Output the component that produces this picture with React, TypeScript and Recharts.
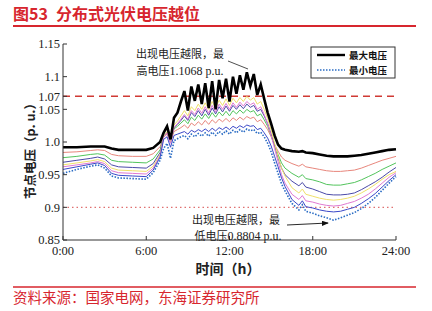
import React from 'react'
import { LineChart, Line, XAxis, YAxis, ReferenceLine } from 'recharts'

// hours of day
const TIME = [
  0, 1, 2, 2.5, 3, 3.5, 4, 5, 6, 6.5, 7,
  7.25, 7.5, 7.75, 8, 8.25, 8.5, 8.75, 9, 9.25, 9.5, 9.75, 10, 10.25, 10.5, 10.75, 11,
  11.25, 11.5, 11.75, 12, 12.25, 12.5, 12.75, 13, 13.25, 13.5, 13.75, 14, 14.25, 14.5,
  14.75, 15, 15.25, 15.5, 15.75, 16,
  16.5, 17, 17.25, 17.5, 18, 18.5, 19, 19.5, 20, 20.5, 21, 21.5, 22, 22.5, 23, 23.5, 24,
]

const MAX_V = [
  0.992, 0.992, 0.993, 0.993, 0.993, 0.99, 0.988, 0.988, 0.988, 0.991, 1.0,
  1.014, 1.024, 1.004, 1.037, 1.045, 1.062, 1.078, 1.048, 1.085, 1.063, 1.088, 1.058, 1.09, 1.052, 1.093, 1.05,
  1.095, 1.067, 1.097, 1.062, 1.1, 1.074, 1.102, 1.08, 1.1068, 1.086, 1.104, 1.072, 1.088, 1.066,
  1.045, 1.028, 1.01, 0.996, 0.99, 0.988,
  0.986, 0.985, 0.986, 0.984, 0.983, 0.981, 0.979, 0.978, 0.978, 0.978, 0.979, 0.98, 0.982, 0.984, 0.986, 0.988, 0.989,
]

const NODE_1 = [
  0.984, 0.985, 0.987, 0.988, 0.987, 0.981, 0.979, 0.978, 0.978, 0.982, 0.993,
  1.008, 1.012, 1.0, 1.016, 1.019, 1.022, 1.026, 1.021, 1.029, 1.025, 1.031, 1.026, 1.033, 1.027, 1.034, 1.029,
  1.035, 1.031, 1.036, 1.031, 1.037, 1.033, 1.038, 1.034, 1.039, 1.036, 1.038, 1.031, 1.034, 1.027,
  1.019, 1.008, 0.996, 0.986, 0.977, 0.972,
  0.967, 0.963, 0.966, 0.962, 0.96, 0.958, 0.956, 0.955, 0.955, 0.956, 0.957, 0.96, 0.964, 0.968, 0.972, 0.975, 0.978,
]

const NODE_2 = [
  0.976, 0.978, 0.981, 0.982, 0.98, 0.972, 0.97, 0.969, 0.968, 0.974, 0.988,
  1.009, 1.014, 1.0, 1.02, 1.024, 1.029, 1.034, 1.028, 1.038, 1.033, 1.041, 1.035, 1.043, 1.036, 1.045, 1.038,
  1.046, 1.04, 1.047, 1.04, 1.048, 1.043, 1.049, 1.044, 1.05, 1.046, 1.048, 1.04, 1.043, 1.034,
  1.024, 1.01, 0.995, 0.981, 0.968, 0.96,
  0.952, 0.946, 0.95, 0.944, 0.942, 0.939, 0.935, 0.934, 0.934, 0.936, 0.938, 0.942, 0.947, 0.952, 0.958, 0.963, 0.968,
]

const NODE_3 = [
  0.969, 0.972, 0.975, 0.977, 0.974, 0.965, 0.962, 0.961, 0.96, 0.967, 0.984,
  1.008, 1.015, 1.0, 1.022, 1.027, 1.033, 1.04, 1.033, 1.045, 1.039, 1.048, 1.04, 1.05, 1.041, 1.052, 1.043,
  1.054, 1.046, 1.055, 1.047, 1.056, 1.05, 1.057, 1.051, 1.058, 1.053, 1.056, 1.047, 1.05, 1.04,
  1.028, 1.012, 0.994, 0.976, 0.96, 0.95,
  0.94, 0.933, 0.938, 0.931, 0.928, 0.924, 0.92, 0.919, 0.919, 0.92, 0.922, 0.927, 0.933, 0.939, 0.946, 0.954, 0.961,
]

const NODE_4 = [
  0.965, 0.968, 0.971, 0.973, 0.97, 0.96, 0.957, 0.956, 0.955, 0.963, 0.981,
  1.008, 1.016, 1.0, 1.026, 1.032, 1.04, 1.048, 1.04, 1.054, 1.048, 1.058, 1.05, 1.06, 1.05, 1.062, 1.052,
  1.064, 1.056, 1.066, 1.056, 1.067, 1.06, 1.068, 1.062, 1.07, 1.064, 1.068, 1.058, 1.062, 1.05,
  1.036, 1.018, 0.998, 0.978, 0.96, 0.948,
  0.93, 0.922, 0.928, 0.92, 0.917, 0.914, 0.912, 0.911, 0.912, 0.914, 0.917, 0.922, 0.928, 0.935, 0.943, 0.95, 0.955,
]

const NODE_5 = [
  0.962, 0.965, 0.968, 0.97, 0.967, 0.956, 0.953, 0.952, 0.951, 0.96, 0.979,
  1.007, 1.014, 0.998, 1.022, 1.028, 1.035, 1.042, 1.035, 1.048, 1.042, 1.052, 1.044, 1.054, 1.044, 1.056, 1.046,
  1.058, 1.05, 1.059, 1.05, 1.06, 1.053, 1.061, 1.055, 1.062, 1.057, 1.06, 1.05, 1.054, 1.042,
  1.028, 1.01, 0.99, 0.97, 0.95, 0.937,
  0.92, 0.912, 0.918, 0.91, 0.908, 0.905, 0.903, 0.902, 0.903, 0.906, 0.909, 0.914, 0.92, 0.928, 0.937, 0.946, 0.953,
]

const NODE_6 = [
  0.958, 0.962, 0.966, 0.968, 0.964, 0.952, 0.949, 0.948, 0.947, 0.957, 0.977,
  1.004, 1.008, 0.992, 1.01, 1.012, 1.014, 1.016, 1.012, 1.018, 1.015, 1.019, 1.016, 1.02, 1.016, 1.021, 1.017,
  1.022, 1.019, 1.023, 1.019, 1.024, 1.021, 1.025, 1.022, 1.026, 1.024, 1.025, 1.019, 1.021, 1.014,
  1.006, 0.994, 0.978, 0.962, 0.945, 0.932,
  0.912, 0.903, 0.91, 0.901, 0.899, 0.896, 0.894, 0.893, 0.894, 0.897, 0.9, 0.906, 0.913, 0.921, 0.931, 0.941, 0.95,
]

const MIN_V = [
  0.952, 0.958, 0.963, 0.965, 0.96, 0.948, 0.945, 0.944, 0.943, 0.953, 0.972,
  0.99, 0.998, 0.975, 1.002, 1.005, 1.008, 1.01, 1.005, 1.012, 1.008, 1.013, 1.009, 1.014, 1.009, 1.015, 1.01,
  1.016, 1.012, 1.017, 1.012, 1.018, 1.014, 1.019, 1.015, 1.02, 1.017, 1.019, 1.013, 1.015, 1.008,
  0.998, 0.985, 0.968, 0.952, 0.936, 0.925,
  0.906, 0.896, 0.904, 0.894, 0.891, 0.887, 0.884, 0.8804, 0.884, 0.888, 0.892, 0.898, 0.906, 0.915, 0.926, 0.937, 0.947,
]

const X_TICKS = [0, 6, 12, 18, 24]
const X_LABELS = ['0:00', '6:00', '12:00', '18:00', '24:00']
const Y_TICKS = [0.85, 0.9, 0.95, 1.0, 1.05, 1.07, 1.1, 1.15]
const Y_LABELS = ['0.85', '0.9', '0.95', '1.0', '1.05', '1.07', '1.1', '1.15']
const UPPER_LIMIT = 1.07
const LOWER_LIMIT = 0.9

const data = TIME.map((t, i) => ({
  t,
  max: MAX_V[i],
  n1: NODE_1[i],
  n2: NODE_2[i],
  n3: NODE_3[i],
  n4: NODE_4[i],
  n5: NODE_5[i],
  n6: NODE_6[i],
  min: MIN_V[i],
}))

const nodeLines = [
  { key: 'n1', color: '#e8867c' },
  { key: 'n2', color: '#52c45c' },
  { key: 'n3', color: '#4b4aa8' },
  { key: 'n4', color: '#f0e06a' },
  { key: 'n5', color: '#e07ad2' },
  { key: 'n6', color: '#3a48c8' },
]

const serif = '"Liberation Serif", "DejaVu Serif", serif'
const cjk = '"Noto Sans CJK SC", sans-serif'
const red = '#d7262e'

export default function App() {
  const tickStyle = { fontSize: 12.5, fill: '#222', fontFamily: serif }
  return (
    <div style={{ position: 'absolute', left: 0, top: 0, width: 432, height: 311, background: '#fff' }}>
      <LineChart width={432} height={311} data={data} margin={{ top: 44, right: 36, bottom: 0, left: 23 }}>
        <XAxis
          dataKey="t"
          type="number"
          domain={[0, 24]}
          ticks={X_TICKS}
          tickFormatter={(v) => X_LABELS[X_TICKS.indexOf(v)]}
          height={71}
          stroke="#333"
          tickSize={-4}
          tickMargin={10}
          tick={tickStyle}
          interval={0}
        />
        <XAxis
          xAxisId="top"
          dataKey="t"
          type="number"
          orientation="top"
          domain={[0, 24]}
          ticks={X_TICKS}
          tickFormatter={() => ''}
          height={0}
          stroke="#333"
          tickSize={-4}
        />
        <YAxis
          type="number"
          domain={[0.85, 1.15]}
          ticks={Y_TICKS}
          tickFormatter={(v) => Y_LABELS[Y_TICKS.indexOf(v)]}
          width={40}
          stroke="#333"
          tickSize={-4}
          tickMargin={7}
          tick={tickStyle}
          interval={0}
          allowDataOverflow
        />
        <YAxis
          yAxisId="right"
          orientation="right"
          type="number"
          domain={[0.85, 1.15]}
          ticks={[0.9, 1.0, 1.05, 1.1]}
          tickFormatter={() => ''}
          width={0}
          stroke="#333"
          tickSize={-4}
        />
        <ReferenceLine y={UPPER_LIMIT} stroke="#d03a34" strokeWidth={1.6} strokeDasharray="7 5" />
        <ReferenceLine y={LOWER_LIMIT} stroke="#e07070" strokeWidth={1.2} strokeDasharray="1.5 3" />
        {nodeLines.map((s) => (
          <Line
            key={s.key}
            dataKey={s.key}
            stroke={s.color}
            strokeWidth={1}
            dot={false}
            type="linear"
            isAnimationActive={false}
          />
        ))}
        <Line dataKey="min" stroke="#2a6cc4" strokeWidth={1.6} strokeDasharray="1.5 1.5" dot={false} type="linear" isAnimationActive={false} />
        <Line dataKey="max" stroke="#000" strokeWidth={2.6} dot={false} type="linear" isAnimationActive={false} />
      </LineChart>

      <svg width={432} height={311} style={{ position: 'absolute', left: 0, top: 0, pointerEvents: 'none' }}>
        <defs>
          <marker id="head" markerWidth="8" markerHeight="6" refX="7" refY="3" orient="auto">
            <path d="M0,0 L8,3 L0,6 Z" fill="#111" />
          </marker>
        </defs>
        {/* title */}
        <text x={13} y={20} fontFamily={cjk} fontSize={16} fontWeight={700} fill={red}>图53</text>
        <text x={56} y={20} fontFamily={cjk} fontSize={16} fontWeight={700} fill={red}>分布式光伏电压越位</text>
        <line x1={13} x2={416} y1={26} y2={26} stroke={red} strokeWidth={2} />

        {/* legend */}
        <rect x={311} y={47} width={84} height={31} fill="#fff" stroke="#333" strokeWidth={1} />
        <line x1={317} x2={345} y1={55} y2={55} stroke="#000" strokeWidth={2.4} />
        <text x={349} y={58.5} fontFamily={cjk} fontSize={9.5} fontWeight={700} fill="#111">最大电压</text>
        <line x1={317} x2={345} y1={70} y2={70} stroke="#2a6cc4" strokeWidth={1.4} strokeDasharray="1.5 1.5" />
        <text x={349} y={73.5} fontFamily={cjk} fontSize={9.5} fontWeight={700} fill="#111">最小电压</text>

        {/* annotations */}
        <text x={180} y={58} textAnchor="middle" fontFamily={cjk} fontSize={11} fill="#222">出现电压越限，最</text>
        <text x={180} y={75} textAnchor="middle" fontFamily={cjk} fontSize={11} fill="#222">
          高电压<tspan fontFamily={serif} fontSize={12}>1.1068 p.u.</tspan>
        </text>
        <line x1={228} y1={61} x2={248} y2={69} stroke="#222" strokeWidth={0.8} />
        <text x={236} y={224} textAnchor="middle" fontFamily={cjk} fontSize={11} fill="#222">出现电压越限，最</text>
        <text x={238} y={240} textAnchor="middle" fontFamily={cjk} fontSize={11} fill="#222">
          低电压<tspan fontFamily={serif} fontSize={12}>0.8804 p.u.</tspan>
        </text>
        <line x1={287} y1={225} x2={328} y2={223} stroke="#111" strokeWidth={0.9} markerEnd="url(#head)" />

        {/* axis titles */}
        <text
          x={0}
          y={0}
          transform="translate(35,148) rotate(-90)"
          textAnchor="middle"
          fontFamily={cjk}
          fontSize={12.5}
          fontWeight={700}
          fill="#222"
        >
          节点电压（p. u.）
        </text>
        <text x={228} y={274} textAnchor="middle" fontFamily={cjk} fontSize={14} fontWeight={700} fill="#222">
          时间（h）
        </text>

        {/* source */}
        <line x1={13} x2={416} y1={287} y2={287} stroke={red} strokeWidth={1.5} />
        <text x={13} y={303} fontFamily={cjk} fontSize={14.5} fill={red}>
          资料来源：国家电网，东海证券研究所
        </text>
      </svg>
    </div>
  )
}
